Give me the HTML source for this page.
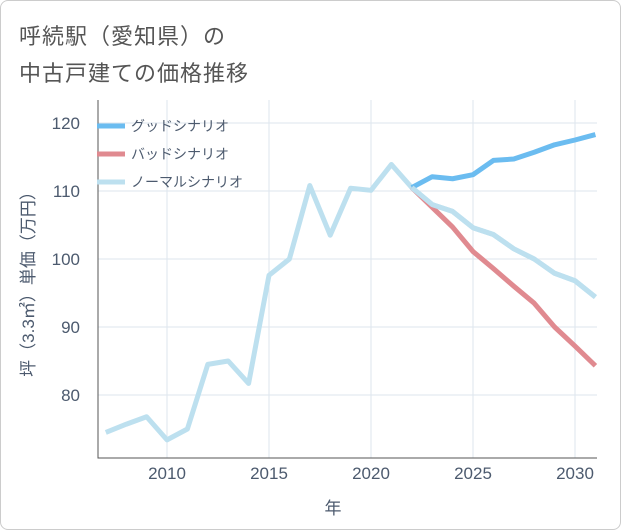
<!DOCTYPE html>
<html><head><meta charset="utf-8"><style>
body{margin:0;background:#fff;font-family:"Liberation Sans","Noto Sans CJK JP",sans-serif;}
#wrap{position:relative;width:619px;height:528px;border:1px solid #ccc;border-radius:8px;overflow:hidden;background:#fff}
.t{position:absolute;left:18px;font-size:22px;color:#555;letter-spacing:1px}
</style></head><body>
<div id="wrap">
<div class="t" style="top:18px">呼続駅（愛知県）の</div>
<div class="t" style="top:55px">中古戸建ての価格推移</div>
<svg id="chart" width="621" height="530" style="position:absolute;left:-1px;top:-1px"></svg>
</div>
<script>
const years=[2007,2008,2009,2010,2011,2012,2013,2014,2015,2016,2017,2018,2019,2020,2021,2022,2023,2024,2025,2026,2027,2028,2029,2030,2031];
const normal=[74.5,75.7,76.8,73.4,75,84.5,85,81.7,97.6,100,110.8,103.5,110.4,110.1,113.9,110.5,108,107,104.6,103.6,101.5,100,97.9,96.8,94.4];
const goodYears=[2022,2023,2024,2025,2026,2027,2028,2029,2030,2031];
const good=[110.5,112.1,111.8,112.4,114.5,114.7,115.7,116.8,117.5,118.3];
const bad=[110.5,107.6,104.7,101.1,98.6,96,93.5,90,87.2,84.3];
const xTicks=[2010,2015,2020,2025,2030];
const yTicks=[80,90,100,110,120];
const legendLabels=["グッドシナリオ","バッドシナリオ","ノーマルシナリオ"];
const colors=["#6bbcf0","#e08a90","#bde0ef"];
const L=98,R=597,T=100,B=458;
const x=v=>167+(v-2010)*(575-167)/20;
const y=v=>123+(120-v)*(395-123)/40;
const svg=document.getElementById('chart');
const NS='http://www.w3.org/2000/svg';
function mk(tag,attrs){const e=document.createElementNS(NS,tag);for(const k in attrs)e.setAttribute(k,attrs[k]);svg.appendChild(e);return e;}
xTicks.forEach(t=>{const l=mk('line',{x1:x(t),x2:x(t),y1:T,y2:B,stroke:'#dde6ee'});


const tx=mk('text',{x:x(t),y:479,'text-anchor':'middle','font-size':17,fill:'#4c5a6e'});tx.textContent=t;

});
yTicks.forEach(t=>{const l=mk('line',{x1:L,x2:R,y1:y(t),y2:y(t),stroke:'#dde6ee'});


const tx=mk('text',{x:80,y:y(t)+6,'text-anchor':'end','font-size':17,fill:'#4c5a6e'});tx.textContent=t;

});
const ax=mk('path',{d:`M${L} ${T}V${B}H${R}`,stroke:'#555',fill:'none'});


function line(xs,vs,c,name){const p=mk('polyline',{points:xs.map((v,i)=>x(v)+','+y(vs[i])).join(' '),fill:'none',stroke:c,'stroke-width':5,'stroke-linejoin':'round'});

}
line(years,normal,colors[2],'normal-scenario-line');
line(goodYears,good,colors[0],'good-scenario-line');
line(goodYears,bad,colors[1],'bad-scenario-line');
line(years.slice(15),normal.slice(15),colors[2],'normal-scenario-forecast-line');
legendLabels.forEach((s,i)=>{const yy=126+i*28;
const l=mk('line',{x1:97,x2:125,y1:yy,y2:yy,stroke:colors[i],'stroke-width':5});


const t=mk('text',{x:131,y:yy+5,'font-size':14,fill:'#4c5a6e'});t.textContent=s;

});
const yt=mk('text',{transform:'translate(34,280) rotate(-90)','text-anchor':'middle','font-size':17,fill:'#4c5a6e'});yt.textContent='坪（3.3㎡）単価（万円）';


const xt=mk('text',{x:333,y:514,'text-anchor':'middle','font-size':17,fill:'#4c5a6e'});xt.textContent='年';


</script>
</body></html>
